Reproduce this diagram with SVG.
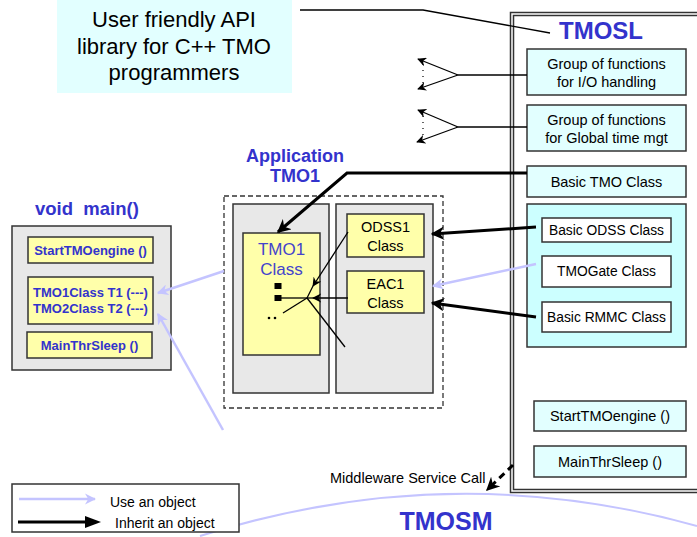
<svg xmlns="http://www.w3.org/2000/svg" width="697" height="537" viewBox="0 0 697 537">
<style>
text{font-family:"Liberation Sans",Arial,sans-serif;fill:#000}
.t14{font-size:14.5px;text-anchor:middle}
.t13{font-size:13.8px;text-anchor:middle}
.blue{fill:#3333cc;font-weight:bold}
.cy{fill:#e2ffff;stroke:#333;stroke-width:1.5}
.cy2{fill:#ccffff;stroke:#333;stroke-width:1.5}
.wh{fill:#fff;stroke:#333;stroke-width:1.5}
.gr{fill:#e8e8e8;stroke:#333;stroke-width:1.5}
.ye{fill:#ffffaa;stroke:#333;stroke-width:1.5}
.blk{stroke:#000;stroke-width:3;fill:none}
.thin{stroke:#000;stroke-width:1.3;fill:none}
.lav{stroke:#c4c4ff;stroke-width:2.5;fill:none}
.mb{font-size:13px;font-weight:bold;fill:#3333cc;text-anchor:middle}
</style>
<defs>
<marker id="ab" viewBox="0 0 10 10" refX="9" refY="5" markerWidth="4.5" markerHeight="4.5" orient="auto" markerUnits="strokeWidth">
<path d="M0,0 L10,5 L0,10 L3,5 z" fill="#000"/>
</marker>
<marker id="abt" viewBox="0 0 10 10" refX="9" refY="5" markerWidth="7" markerHeight="7" orient="auto" markerUnits="strokeWidth">
<path d="M0,0 L10,5 L0,10 L3,5 z" fill="#000"/>
</marker>
<marker id="al" viewBox="0 0 10 10" refX="9" refY="5" markerWidth="4.5" markerHeight="4.5" orient="auto" markerUnits="strokeWidth">
<path d="M0,0 L10,5 L0,10 L3,5 z" fill="#c4c4ff"/>
</marker>
</defs>

<g id="api-note">
<rect x="57" y="0" width="235" height="93" fill="#e2ffff"/>
<text x="174" y="27" font-size="22" text-anchor="middle">User friendly API</text>
<text x="174" y="54" font-size="22" text-anchor="middle">library for C++ TMO</text>
<text x="174" y="80" font-size="22" text-anchor="middle">programmers</text>
</g>

<g id="tmosl">
<path d="M697,12.5 H510.5 V492.5 H697" fill="none" stroke="#333" stroke-width="1.5"/>
<path d="M697,15.5 H513.5 V489.5 H697" fill="none" stroke="#333" stroke-width="1.5"/>
<text x="601" y="39" font-size="24" class="blue" text-anchor="middle">TMOSL</text>
</g>

<g id="io-group">
<rect class="cy" x="527" y="49" width="159" height="46"/>
<text class="t14" x="606.5" y="69">Group of functions</text>
<text class="t14" x="606.5" y="87">for I/O handling</text>
</g>
<g id="time-group">
<rect class="cy" x="527" y="105" width="159" height="46"/>
<text class="t14" x="606.5" y="125">Group of functions</text>
<text class="t14" x="606.5" y="143">for Global time mgt</text>
</g>
<g id="basic-tmo">
<rect class="cy" x="527" y="166" width="159" height="31"/>
<text class="t14" x="606.5" y="187">Basic TMO Class</text>
</g>
<g id="basic-container">
<rect class="cy2" x="527" y="204" width="159" height="143"/>
</g>
<g id="basic-odss">
<rect class="wh" x="542" y="218" width="129" height="24"/>
<text class="t13" x="606.5" y="235">Basic ODSS Class</text>
</g>
<g id="tmogate">
<rect class="wh" x="542" y="256" width="129" height="31"/>
<text class="t13" x="606.5" y="276">TMOGate Class</text>
</g>
<g id="basic-rmmc">
<rect class="wh" x="542" y="302" width="129" height="30"/>
<text class="t13" x="606.5" y="322">Basic RMMC Class</text>
</g>
<g id="start-engine-sl">
<rect class="cy" x="534" y="401" width="152" height="30"/>
<text class="t14" x="610" y="421">StartTMOengine ()</text>
</g>
<g id="mainthr-sl">
<rect class="cy" x="534" y="446" width="152" height="31"/>
<text class="t14" x="610" y="467">MainThrSleep ()</text>
</g>

<g id="application-tmo1">
<text x="295" y="162" font-size="18" class="blue" text-anchor="middle">Application</text>
<text x="295" y="182" font-size="18" class="blue" text-anchor="middle">TMO1</text>
<rect x="224" y="196" width="219" height="212" fill="none" stroke="#333" stroke-width="1.3" stroke-dasharray="5,3"/>
<rect class="gr" x="233" y="204" width="96" height="189"/>
<rect class="gr" x="336" y="204" width="97" height="189"/>
</g>
<g id="tmo1-class">
<rect class="ye" x="243" y="233" width="77" height="122"/>
<text x="281.5" y="255" font-size="17" text-anchor="middle" style="fill:#4444cc">TMO1</text>
<text x="281.5" y="275" font-size="17" text-anchor="middle" style="fill:#4444cc">Class</text>
<rect x="274.5" y="283" width="7" height="6" fill="#000"/>
<rect x="274.5" y="295" width="7" height="6" fill="#000"/>
<circle cx="269" cy="318" r="1.3" fill="#000"/>
<circle cx="275" cy="318" r="1.3" fill="#000"/>
</g>
<g id="odss1-class">
<rect class="ye" x="347" y="214" width="77" height="43"/>
<text class="t14" x="385.5" y="232">ODSS1</text>
<text class="t14" x="385.5" y="251">Class</text>
</g>
<g id="eac1-class">
<rect class="ye" x="347" y="271" width="77" height="42"/>
<text class="t14" x="385.5" y="289">EAC1</text>
<text class="t14" x="385.5" y="308">Class</text>
</g>

<g id="void-main">
<text x="35" y="215" font-size="18.5" class="blue" xml:space="preserve">void  main()</text>
<rect class="gr" x="12" y="226" width="159" height="144"/>
<rect class="ye" x="28" y="237" width="125" height="26"/>
<text class="mb" x="90.5" y="255">StartTMOengine ()</text>
<rect class="ye" x="28" y="277" width="125" height="47"/>
<text class="mb" x="90.5" y="297">TMO1Class T1 (---)</text>
<text class="mb" x="90.5" y="313">TMO2Class T2 (---)</text>
<rect class="ye" x="27" y="332" width="125" height="26"/>
<text class="mb" x="89.5" y="350">MainThrSleep ()</text>
</g>

<g id="connectors">
<path class="thin" d="M300,10 H423 L550,33"/>
<path class="thin" d="M527,75 H458"/>
<path class="thin" d="M458,75 L418,59" marker-end="url(#abt)"/>
<path class="thin" d="M458,75 L418,89" marker-end="url(#abt)"/>
<path d="M423,64 V84" stroke="#000" stroke-width="1.2" stroke-dasharray="1,5"/>
<path class="thin" d="M527,127 H458"/>
<path class="thin" d="M458,127 L418,110" marker-end="url(#abt)"/>
<path class="thin" d="M458,127 L417,142" marker-end="url(#abt)"/>
<path d="M423,116 V136" stroke="#000" stroke-width="1.2" stroke-dasharray="1,5"/>

<path class="blk" d="M527,173 H347 L278,232" marker-end="url(#ab)"/>
<path class="blk" d="M536,227 L432,234" marker-end="url(#ab)"/>
<path class="blk" d="M536,317 L432,303" marker-end="url(#ab)"/>
<path class="lav" d="M536,264 L433,286" marker-end="url(#al)"/>

<path class="thin" d="M348,232 L313,286" marker-end="url(#abt)"/>
<path class="thin" d="M313,286 L307,298"/>
<path class="thin" d="M348,298 L313,298" marker-end="url(#abt)"/>
<path class="thin" d="M313,298 H281"/>
<path class="thin" d="M307,298 L283,313"/>
<path class="thin" d="M307,298 L345,347"/>

<path class="lav" d="M224,271 L158,293" marker-end="url(#al)"/>
<path class="lav" d="M223,430 L158,314" marker-end="url(#al)"/>

<path d="M513,465 L487,490" stroke="#000" stroke-width="3" stroke-dasharray="7,5" fill="none" marker-end="url(#ab)"/>

<path d="M200,536 Q450,457 697,526" fill="none" stroke="#c4c4ff" stroke-width="2"/>
</g>

<g id="tmosm">
<text x="446" y="530" font-size="25" class="blue" text-anchor="middle">TMOSM</text>
<text x="330" y="483" font-size="14.5">Middleware Service Call</text>
</g>

<g id="legend">
<rect x="12" y="484" width="227" height="48" fill="#fff" stroke="#333" stroke-width="1.5"/>
<path class="lav" d="M19,499 H95" marker-end="url(#al)"/>
<text x="110" y="507" font-size="14">Use an object</text>
<path d="M18,522 H86" stroke="#000" stroke-width="3"/>
<path d="M85,516 L101,522 L85,528 z" fill="#000"/>
<text x="115" y="528" font-size="14">Inherit an object</text>
</g>
</svg>
